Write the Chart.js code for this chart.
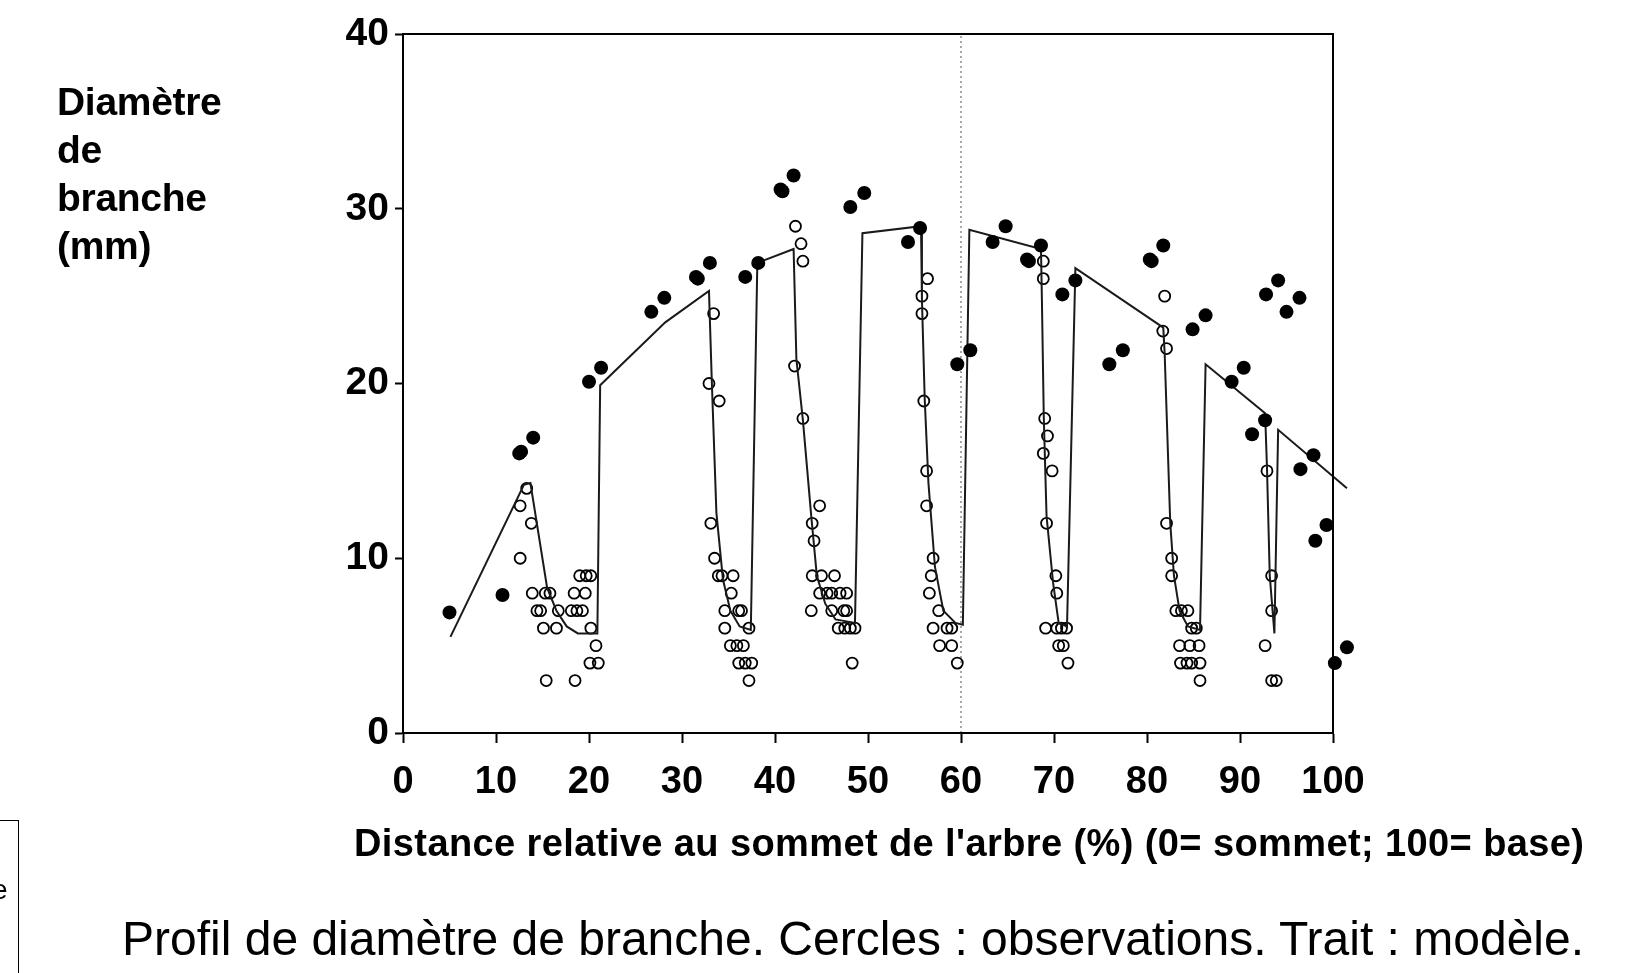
<!DOCTYPE html>
<html><head><meta charset="utf-8">
<script src="https://cdn.jsdelivr.net/npm/chart.js@4.4.1/dist/chart.umd.min.js"></script>
<style>
html,body{margin:0;padding:0;background:#fff;}
#wrap{position:relative;width:1642px;height:973px;overflow:hidden;font-family:'Liberation Sans',Arial,sans-serif;color:#000;}
#c{position:absolute;left:0;top:0;}
.ytitle{position:absolute;left:57px;top:78px;font-weight:bold;font-size:39px;line-height:48px;letter-spacing:-0.3px;}
.xtitle{position:absolute;left:354px;top:824px;font-weight:bold;font-size:38px;line-height:38px;white-space:nowrap;letter-spacing:0.4px;}
.caption{position:absolute;left:122px;top:915px;font-size:48px;line-height:48px;white-space:nowrap;}
.legbox{position:absolute;left:-2px;top:820px;width:20px;height:200px;border-top:1.5px solid #000;border-right:1.5px solid #000;}
.legtxt{position:absolute;left:-8px;top:876px;font-size:28px;line-height:28px;}
</style>
</head><body>
<div id="wrap">
<canvas id="c" width="1642" height="973"></canvas>
<div class="ytitle">Diamètre<br>de<br>branche<br>(mm)</div>
<div class="xtitle">Distance relative au sommet de l'arbre (%) (0= sommet; 100= base)</div>
<div class="caption">Profil de diamètre de branche. Cercles : observations. Trait : modèle.</div>
<div class="legbox"></div>
<div class="legtxt">e</div>
</div>
<script>
// ---- data ----
const xTicks = [0,10,20,30,40,50,60,70,80,90,100];
const yTicks = [0,10,20,30,40];
const dividerX = 60;

// filled circles
const filledPoints = [
 [5.0,6.9],[10.7,7.9],[12.5,16.0],[12.7,16.1],[14.0,16.9],
 [20.0,20.1],[21.3,20.9],[26.7,24.1],[28.1,24.9],[31.5,26.1],[31.7,26.0],[33.0,26.9],
 [36.8,26.1],[38.2,26.9],[40.6,31.1],[40.8,31.0],[42.0,31.9],[48.1,30.1],[49.6,30.9],
 [54.3,28.1],[55.6,28.9],[59.6,21.1],[61.0,21.9],[63.4,28.1],[64.8,29.0],
 [67.1,27.1],[67.3,27.0],[68.6,27.9],[70.9,25.1],[72.3,25.9],[75.95,21.1],[77.4,21.9],
 [80.3,27.1],[80.5,27.0],[81.75,27.9],[84.9,23.1],[86.3,23.9],[89.1,20.1],[90.4,20.9],
 [91.3,17.1],[92.7,17.9],[92.8,25.1],[94.1,25.9],[95.0,24.1],[96.4,24.9],
 [96.5,15.1],[97.9,15.9],[98.1,11.0],[99.3,11.9],[100.2,4.0],[101.5,4.9]
];

// open circles (observations)
const openPoints = [
 [12.6,13],[13.3,14],[13.8,12],[12.6,10],[13.9,8],[15.3,8],[15.8,8],[14.4,7],[14.8,7],[16.7,7],
 [15.1,6],[16.5,6],[19.0,9],[19.7,9],[20.2,9],[18.4,8],[19.6,8],[18.1,7],[18.7,7],[19.3,7],
 [20.2,6],[20.75,5],[20.1,4],[21.0,4],[15.4,3],[18.5,3],
 [33.4,24],[32.9,20],[34.0,19],[33.1,12],[33.5,10],[33.9,9],[34.3,9],[35.5,9],[35.3,8],
 [34.6,7],[36.1,7],[36.4,7],[34.6,6],[37.2,6],[35.2,5],[35.9,5],[36.6,5],[36.1,4],[36.8,4],[37.5,4],[37.2,3],
 [42.2,29],[42.8,28],[43.0,27],[42.1,21],[43.0,18],[44.8,13],[44.0,12],[44.2,11],[44.0,9],[45.0,9],[46.4,9],
 [44.8,8],[45.6,8],[46.1,8],[47.0,8],[47.7,8],[43.9,7],[46.1,7],[47.4,7],[47.7,7],
 [46.8,6],[47.5,6],[48.1,6],[48.6,6],[48.3,4],
 [56.4,26],[55.8,25],[55.8,24],[56.0,19],[56.3,15],[56.3,13],[57.0,10],[56.8,9],[56.6,8],[57.6,7],
 [57.0,6],[58.5,6],[59.0,6],[57.7,5],[59.0,5],[59.6,4],
 [68.85,27],[68.85,26],[69.0,18],[69.3,17],[68.85,16],[69.8,15],[69.2,12],[70.2,9],[70.3,8],
 [69.1,6],[70.3,6],[70.8,6],[71.35,6],[70.5,5],[71.0,5],[71.5,4],
 [81.9,25],[81.7,23],[82.1,22],[82.1,12],[82.65,10],[82.65,9],[83.1,7],[83.7,7],[84.4,7],
 [84.8,6],[85.3,6],[83.5,5],[84.6,5],[85.6,5],[83.6,4],[84.3,4],[84.8,4],[85.7,4],[85.7,3],
 [92.9,15],[93.4,9],[93.4,7],[92.7,5],[93.4,3],[93.9,3]
];

// model line
const modelX = [5.1,13.0,13.7,15.5,16.5,17.6,18.8,20.9,21.2,28.2,32.9,33.2,33.7,34.4,35.2,36.2,37.4,
 38.1,42.0,42.3,43.0,43.9,44.5,45.4,46.5,48.6,49.4,55.7,55.8,56.1,56.5,57.2,58.1,59.4,60.2,60.9,
 68.6,68.7,68.9,69.2,69.9,70.5,71.4,72.3,81.75,81.9,82.5,82.9,83.5,84.4,85.7,86.3,92.7,92.9,93.2,93.7,94.1,101.5];
const modelY = [5.5,14.2,14.3,8.3,7.0,6.1,5.7,5.7,19.9,23.5,25.3,20.2,12.6,8.8,7.0,6.1,5.9,
 26.9,27.7,21.4,17.9,12.4,9.0,7.4,6.5,6.3,28.6,29.0,24.8,19.1,14.3,9.5,7.0,6.3,6.2,28.8,
 27.7,24.8,18.1,12.4,8.6,6.3,6.1,26.6,23.2,21.7,12.0,9.0,7.0,6.1,5.9,21.1,18.3,15.2,9.0,5.7,17.35,14.0];

// ---- chart ----
const toXY = a => a.map(p => ({x:p[0], y:p[1]}));
const FONT = "'Liberation Sans', Arial, sans-serif";

const framePlugin = {
  id:'frame',
  afterDatasetsDraw(chart){
    const a = chart.chartArea, ctx = chart.ctx;
    ctx.save();
    ctx.strokeStyle = '#000'; ctx.lineWidth = 2;
    ctx.strokeRect(a.left, a.top, a.right - a.left, a.bottom - a.top);
    // points lying past the right edge of the axis (drawn by their own elements)
    const full = {left:0, top:0, right:chart.width, bottom:chart.height};
    chart.data.datasets.forEach((ds, i) => {
      if (ds.type === 'line') return;
      const meta = chart.getDatasetMeta(i);
      meta.data.forEach(el => {
        if (el.x > a.right + 6) el.draw(ctx, full);
      });
    });
    ctx.restore();
  }
};

new Chart(document.getElementById('c'), {
  type:'scatter',
  data:{
    datasets:[
      {label:'modèle', type:'line', data:modelX.map((x,i)=>({x, y:modelY[i]})),
       borderColor:'#1a1a1a', borderWidth:2, pointRadius:0, tension:0, fill:false, clip:false, order:1},
      {label:'obs', data:toXY(openPoints), pointStyle:'circle', pointRadius:5.5,
       borderColor:'#000', borderWidth:1.8, backgroundColor:'rgba(255,255,255,0)', clip:false, order:2},
      {label:'obs2', data:toXY(filledPoints), pointStyle:'circle', pointRadius:7,
       borderColor:'#000', borderWidth:0, backgroundColor:'#000', clip:false, order:0},
      {label:'div', type:'line', data:[{x:dividerX,y:yTicks[0]},{x:dividerX,y:yTicks[yTicks.length-1]}],
       borderColor:'#a8a8a8', borderWidth:2, borderDash:[2,3], pointRadius:0, clip:false, order:3}
    ]
  },
  options:{
    responsive:false, animation:false, devicePixelRatio:1,
    layout:{padding:{left:0, top:34, right:309, bottom:0}},
    plugins:{legend:{display:false}, tooltip:{enabled:false}},
    scales:{
      x:{type:'linear', min:xTicks[0], max:xTicks[xTicks.length-1],
         afterBuildTicks:s=>{s.ticks = xTicks.map(v=>({value:v}));},
         afterFit:s=>{s.height = 240;},
         grid:{drawOnChartArea:false, drawTicks:true, tickLength:10, tickColor:'#000', tickWidth:2},
         border:{color:'#000', width:2},
         ticks:{color:'#000', padding:17, maxRotation:0, autoSkip:false, font:{family:FONT, size:38, weight:'bold'}}},
      y:{type:'linear', min:yTicks[0], max:yTicks[yTicks.length-1],
         afterBuildTicks:s=>{s.ticks = yTicks.map(v=>({value:v}));},
         afterFit:s=>{s.width = 403;},
         grid:{drawOnChartArea:false, drawTicks:true, tickLength:8, tickColor:'#000', tickWidth:2},
         border:{color:'#000', width:2},
         ticks:{color:'#000', padding:6, autoSkip:false, font:{family:FONT, size:39, weight:'bold'}}}
    }
  },
  plugins:[framePlugin]
});
</script>
</body></html>
